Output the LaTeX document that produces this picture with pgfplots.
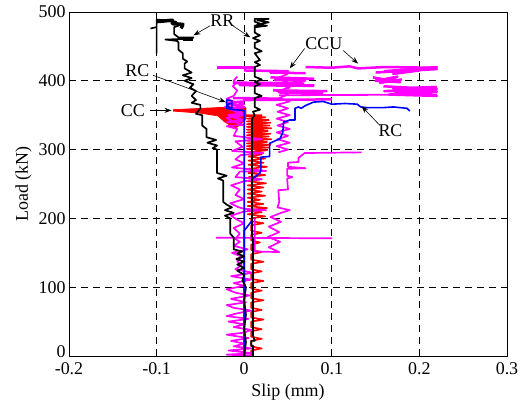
\documentclass[border=0pt]{standalone}
\usepackage{fontspec}
\setmainfont{Liberation Serif}
\usepackage{pgfplots}
\pgfplotsset{compat=1.18}
\usetikzlibrary{arrows.meta}
\definecolor{mag}{RGB}{255,0,255}
\definecolor{myred}{RGB}{255,0,0}
\definecolor{myblue}{RGB}{0,0,255}
\begin{document}
\begin{tikzpicture}
\begin{axis}[
 scale only axis, width=438bp, height=344bp,
 xmin=-0.2,xmax=0.3,ymin=0,ymax=500,
 xtick={-0.2,-0.1,0,0.1,0.2,0.3}, xticklabels={-0.2,-0.1,0,0.1,0.2,0.3},
 ytick={0,100,200,300,400,500}, yticklabels={\smash{\raisebox{-2bp}{0}},100,200,300,400,500},
 tick align=inside, major tick length=4bp,
 grid=major, major grid style={black, line width=0.7pt, dash pattern=on 7bp off 5bp},
 axis line style={line width=0.9pt},
 tick style={black, line width=0.8pt},
 ticklabel style={font=\fontsize{18}{20}\selectfont},
 xticklabel style={yshift=-3bp},
 label style={font=\fontsize{18}{20}\selectfont},
 xlabel={Slip (mm)}, ylabel={Load (kN)},
 xlabel style={yshift=-3bp},
 line join=round,
]
% ---------- CC (red) ----------
\addplot[myred, line width=1.6pt] coordinates {
(0.008,0)(0.008,8)(0.02,11)(0.008,14)(0.008,22)(0.02,25)(0.008,28)(0.008,36)(0.02,39)(0.008,42)(0.008,50)(0.022,53)(0.008,56)(0.008,64)(0.02,67)(0.008,70)(0.008,78)(0.022,81)(0.008,84)(0.008,92)(0.02,95)(0.008,98)(0.008,106)(0.022,109)(0.008,112)(0.008,120)(0.02,123)(0.008,126)(0.008,134)(0.022,137)(0.008,140)(0.008,148)(0.02,151)(0.008,154)(0.008,162)(0.018,165)(0.008,168)(0.008,176)(0.02,179)(0.008,182)(0.008,190)(0.022,193)(0.008,196)(0.008,200)
(0.024,203)(0.004,206)(0.02,209)(0.004,212)(0.026,215)(0.004,218)(0.022,221)(0.004,224)(0.018,227)(0.004,230)(0.024,233)(0.004,236)(0.02,239)(0.004,242)(0.022,245)(0.004,248)(0.025,251)(0.005,254)(0.02,257)(0.005,260)(0.024,263)(0.005,266)(0.02,269)(0.005,272)(0.026,275)(0.005,278)(0.022,281)(0.005,284)(0.024,287)(0.005,290)(0.02,293)(0.005,296)(0.026,299)
(0.003,301)(0.028,303)(0.003,305)(0.03,307)(0.003,309)(0.026,311)(0.003,313)(0.031,315)(0.003,317)(0.028,319)(0.003,321)(0.03,323)(0.003,325)(0.027,327)(0.003,329)(0.031,331)(0.003,333)(0.029,335)(0.003,337)(0.03,339)(0.003,341)(0.028,343)(0.003,345)(0.024,347)(0.0,349)(0.02,350)(0.0,350)
};
\addplot[myred, line width=0.8pt, fill=myred] coordinates {
(-0.081,356)(-0.05,353)(-0.03,349)(-0.022,340)(-0.01,331)(-0.005,336)(0.002,345)(0.002,361)(-0.03,361)(-0.081,358)(-0.081,356)
};
% ---------- CCU (magenta) ----------
\addplot[mag, line width=1.7pt] coordinates {
(0.01,0)(-0.02,2)(0.01,4)(-0.018,8)(0.008,11)(-0.012,14)(0.0,18)(-0.015,22)(0.005,26)(-0.02,31)(0.0,34)(0.008,38)(-0.012,42)(0.0,46)(-0.018,50)(0.005,54)(-0.02,58)(-0.008,62)(0.008,66)(-0.012,70)(-0.02,74)(0.002,78)(-0.015,83)(0.006,88)(-0.01,92)(-0.02,97)(0.0,102)(-0.012,106)(0.008,111)(-0.015,116)(0.01,121)(-0.01,126)(-0.003,132)(-0.008,138)(-0.002,144)(-0.014,150)(0.004,155)(-0.012,160)(-0.005,166)(-0.01,170)(-0.005,178)(-0.012,186)(0.0,193)(-0.008,198)(-0.015,204)(0.0,210)(0.025,212)(0.0,214)(-0.006,216)(-0.016,222)(0.0,228)(-0.01,234)(-0.005,242)(-0.015,248)(0.0,254)(0.02,257)(0.0,259)(-0.01,260)(-0.005,268)(0.025,269)(-0.014,274)(0.0,280)(-0.01,286)(-0.004,292)(0.022,295)(-0.014,298)(-0.002,304)(-0.01,312)(0.02,315)(-0.012,320)(-0.008,330)(-0.02,334)(0.0,336)(-0.012,340)(-0.02,346)(0.0,350)(-0.01,355)(-0.022,362)(0.0,366)(-0.012,370)(-0.02,374)(-0.012,378)(-0.008,386)(-0.013,392)(-0.01,396)(-0.012,400)(-0.008,406)
};
\addplot[mag, line width=1.7pt] coordinates {(-0.032,172)(0.1,171)};
\addplot[mag, line width=1.7pt] coordinates {
(0.012,200)(0.012,152)(0.04,151)(0.028,158)(0.041,166)(0.027,173)(0.04,180)(0.028,188)(0.042,195)(0.03,202)(0.042,208)(0.052,212)(0.038,216)(0.04,224)(0.039,241)(0.05,242)(0.049,258)(0.055,260)(0.049,262)(0.049,272)(0.07,273)(0.05,275)(0.05,281)(0.062,282)(0.062,288)(0.069,295)(0.134,296)
};
\addplot[mag, line width=1.7pt] coordinates {
(0.039,296)(0.05,300)(0.037,305)(0.052,310)(0.038,315)(0.05,320)(0.037,325)(0.052,330)(0.038,335)(0.05,340)(0.037,345)(0.052,350)(0.038,355)(0.05,360)(0.037,365)(0.052,370)(0.04,375)(0.05,380)(0.037,385)(0.052,390)(0.038,395)(0.05,400)(0.04,405)(0.05,410)
};
\addplot[mag, line width=3pt] coordinates {(-0.031,419)(0.014,419)};
\addplot[mag, line width=2.5pt] coordinates {(0.0,415)(0.05,414)(0.03,412)(0.07,411)};
\addplot[mag, line width=2.5pt] coordinates {(0.07,420)(0.1,419)(0.12,421)(0.13,418)(0.16,420)(0.216,419)};
\addplot[mag, line width=2.5pt] coordinates {(0.15,412)(0.22,417)(0.16,414)(0.22,420)(0.17,410)(0.2,415)};
\addplot[mag, line width=2.5pt] coordinates {(0.147,405)(0.178,398)(0.15,400)(0.175,406)(0.155,397)(0.18,402)};
\addplot[mag, line width=2.5pt] coordinates {(0.159,392)(0.22,388)(0.16,385)(0.22,384)(0.165,380)(0.22,378)(0.17,389)(0.22,391)};
\addplot[mag, line width=3pt] coordinates {(-0.013,397)(0.067,396)(-0.005,394)(0.08,393)};
\addplot[mag, line width=2.5pt] coordinates {(0.033,386)(0.094,385)(0.04,383)(0.09,382)};
\addplot[mag, line width=1.8pt] coordinates {(0.04,379)(0.22,380)};
\addplot[mag, line width=2.5pt] coordinates {(-0.013,375)(0.041,374)(0.0,372)(0.1,373)};
\addplot[mag, line width=2.5pt] coordinates {(0.03,405)(0.079,403)(0.035,401)(0.07,400)};
\addplot[mag, line width=2.5pt] coordinates {(-0.02,340)(0.0,342)(-0.018,350)(0.0,352)(-0.015,360)(0.0,362)(-0.02,368)(0.0,370)};
% ---------- RC (blue) ----------
\addplot[myblue, line width=1.6pt] coordinates {
(0.0,0)(0.0,357)(-0.013,358)(-0.02,360)(-0.02,372)(-0.014,371)(-0.014,358)(-0.02,365)(-0.014,368)
};
\addplot[myblue, line width=1.6pt] coordinates {
(0.0,0)(0.0,182)(0.009,197)(0.009,258)(0.012,260)(0.018,266)(0.019,270)(0.019,289)(0.029,290)(0.029,309)(0.041,316)(0.044,325)(0.045,340)(0.052,343)(0.058,343)(0.058,360)(0.062,362)(0.065,360)(0.07,364)(0.079,369)(0.09,370)(0.1,366)(0.115,367)(0.129,366)(0.133,362)(0.14,361)(0.159,361)(0.17,362)(0.186,360)(0.189,356)
};
% ---------- RR (black) ----------
\addplot[black, line width=1.7pt] coordinates {
(0.0,0)(0.002,20)(0.0,40)(0.002,60)(0.0,80)(0.002,100)(-0.002,110)(0.0,118)(-0.008,124)(0.0,128)(-0.008,133)(0.0,137)(-0.009,141)(0.0,145)(-0.008,149)(-0.002,152)(-0.012,155)(-0.012,172)(-0.016,178)(-0.016,200)(-0.022,204)(-0.012,208)(-0.022,212)(-0.014,216)(-0.02,220)(-0.024,224)(-0.024,255)(-0.03,258)(-0.02,262)(-0.031,266)(-0.031,300)(-0.036,302)(-0.031,306)(-0.042,310)(-0.032,314)(-0.043,318)(-0.043,330)(-0.048,335)(-0.048,350)(-0.055,352)(-0.05,360)(-0.05,365)(-0.06,368)(-0.055,372)(-0.06,378)(-0.055,385)(-0.062,390)(-0.058,395)(-0.068,400)(-0.06,404)(-0.07,408)(-0.06,412)(-0.068,418)(-0.068,425)(-0.065,428)(-0.07,432)(-0.07,440)(-0.075,445)(-0.075,456)(-0.077,458)(-0.09,460)(-0.06,461)(-0.058,463)(-0.075,463)(-0.08,468)(-0.08,478)(-0.075,480)(-0.078,486)(-0.09,488)(-0.1,489)(-0.1,440)
};
\addplot[black, line width=3.5pt] coordinates {(-0.1,486)(-0.082,488)(-0.082,483)(-0.07,482)(-0.072,476)};
\addplot[black, line width=3.5pt] coordinates {(-0.07,461)(-0.058,461)};
\addplot[black, line width=1.7pt] coordinates {(-0.107,476)(-0.1,478)};
\addplot[black, line width=1.7pt] coordinates {
(0.01,0)(0.01,15)(0.008,15)(0.008,22)(0.012,22)(0.01,30)(0.01,170)(0.009,175)(0.009,345)(0.012,350)(0.01,355)(0.018,358)(0.012,362)(0.012,375)(0.02,378)(0.012,382)(0.012,392)(0.018,395)(0.012,398)(0.02,402)(0.012,406)(0.012,420)(0.018,423)(0.012,427)(0.018,430)(0.012,440)(0.02,443)(0.012,448)(0.012,455)(0.018,458)(0.01,462)(0.018,466)(0.012,470)(0.012,480)(0.02,482)(0.012,486)(0.012,490)(0.028,490)(0.015,488)(0.028,485)(0.015,482)(0.026,480)(0.013,478)
};
% ---------- annotations ----------
\begin{scope}[every node/.style={font=\fontsize{18}{20}\selectfont, inner sep=0pt}]
\node at (axis cs:-0.025,488) {RR};
\draw[-{Stealth[length=7bp,width=5bp]}, line width=0.6pt] (axis cs:-0.039,480) -- (axis cs:-0.058,466);
\draw[-{Stealth[length=7bp,width=5bp]}, line width=0.6pt] (axis cs:-0.013,480) -- (axis cs:0.007,463);
\node at (axis cs:0.091,454) {CCU};
\draw[-{Stealth[length=7bp,width=5bp]}, line width=0.6pt] (axis cs:0.069,447) -- (axis cs:0.052,418);
\draw[-{Stealth[length=7bp,width=5bp]}, line width=0.6pt] (axis cs:0.113,444) -- (axis cs:0.13,425);
\node at (axis cs:-0.122,415) {RC};
\draw[-{Stealth[length=7bp,width=5bp]}, line width=0.6pt] (axis cs:-0.104,408) -- (axis cs:-0.021,369);
\node at (axis cs:-0.127,357) {CC};
\draw[-{Stealth[length=7bp,width=5bp]}, line width=0.6pt] (axis cs:-0.108,357) -- (axis cs:-0.083,357);
\node at (axis cs:0.167,328) {RC};
\draw[-{Stealth[length=7bp,width=5bp]}, line width=0.6pt] (axis cs:0.155,335) -- (axis cs:0.134,363);
\end{scope}
\end{axis}
\path (current axis.south west) ++(-69bp,-57bp) (current axis.north east) ++(17bp,12bp);
\end{tikzpicture}
\end{document}
